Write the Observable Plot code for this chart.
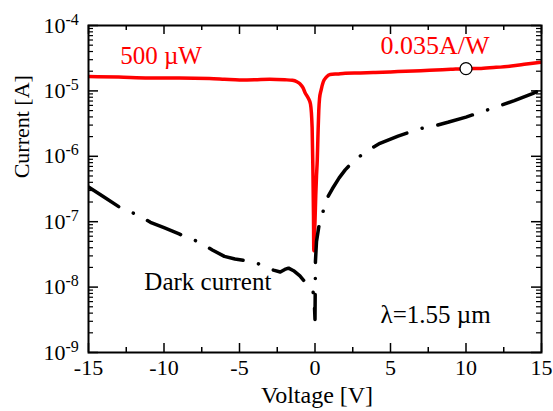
<!DOCTYPE html>
<html><head><meta charset="utf-8">
<script src="https://cdn.jsdelivr.net/npm/d3@7"></script>
<script src="https://cdn.jsdelivr.net/npm/@observablehq/plot@0.6"></script>
<style>body{margin:0;background:#fff;}</style>
</head><body><div id="chart"></div>
<script>
// Photocurrent under 500 µW illumination
const voltageRed = [-15,-13,-11,-9,-7,-6,-5,-4,-3,-2,-1.5,-1.2,-1.0,-0.8,-0.63,-0.45,-0.3,-0.19,-0.14,-0.1,-0.08,-0.04,0,0.05,0.1,0.15,0.2,0.25,0.3,0.4,0.55,0.75,1,1.5,2,3,4,5,6,7,8,9,10,11,12,13,14,15];
const currentRed = [1.66e-5,1.63e-5,1.58e-5,1.58e-5,1.55e-5,1.51e-5,1.47e-5,1.48e-5,1.51e-5,1.48e-5,1.45e-5,1.38e-5,1.29e-5,1.12e-5,9.1e-6,7.8e-6,6.3e-6,2.75e-6,6.3e-7,1.26e-7,3.6e-8,6.3e-8,1.0e-7,2.5e-7,5.0e-7,8.7e-7,2.24e-6,5.0e-6,7.6e-6,1.02e-5,1.38e-5,1.62e-5,1.78e-5,1.82e-5,1.86e-5,1.88e-5,1.91e-5,1.95e-5,2.0e-5,2.04e-5,2.09e-5,2.14e-5,2.19e-5,2.21e-5,2.29e-5,2.40e-5,2.57e-5,2.75e-5];
// Dark current
const voltageDark = [-15,-14,-13,-12.8,-11.8,-10.9,-10,-9,-8.6,-7.7,-6.8,-6,-5.3,-4.7,-4.2,-3.7,-2.75,-2.3,-2.0,-1.75,-1.42,-1.0,-0.74,-0.4,-0.15,-0.05,0,0.03,0.1,0.25,0.45,0.6,0.8,1.14,1.6,2.0,2.6,3.5,4.3,5.5,6.9,7.8,8.8,10,11.3,12.3,13.2,14.4,14.8,15];
const currentDark = [3.39e-7,2.40e-7,1.70e-7,1.58e-7,1.29e-7,9.8e-8,8.1e-8,6.5e-8,5.9e-8,4.9e-8,3.7e-8,2.95e-8,2.69e-8,2.57e-8,2.51e-8,2.24e-8,1.82e-8,1.70e-8,1.86e-8,1.95e-8,1.78e-8,1.48e-8,1.26e-8,1.10e-8,9.3e-9,6.3e-9,3.2e-9,2.5e-8,5.0e-8,8.3e-8,1.17e-7,1.66e-7,2.29e-7,3.16e-7,4.68e-7,6.2e-7,8.7e-7,1.23e-6,1.58e-6,2.04e-6,2.63e-6,2.88e-6,3.31e-6,3.98e-6,5.0e-6,6.0e-6,7.1e-6,9.1e-6,1.0e-5,1.0e-5];
// Responsivity marker
const markerVoltage = [10];
const markerCurrent = [2.19e-5];
// Ticks
const xTicksMajor = [-15,-10,-5,0,5,10,15];
const xTicksMinor = [-12.5,-7.5,-2.5,2.5,7.5,12.5];
const yExponents = [-9,-8,-7,-6,-5,-4];
const yMinorMultipliers = [2,3,4,5,6,7,8,9];

const yTicksMajor = yExponents.map(e => Math.pow(10, e));
const yTicksMinor = yExponents.slice(0, -1).flatMap(e => yMinorMultipliers.map(m => m * Math.pow(10, e)));

const W = 553, H = 411, mL = 88, mR = 12, mT = 25, mB = 59;
const pw = W - mL - mR, ph = H - mT - mB;
const font = "'Liberation Serif', 'Times New Roman', serif";

const chart = Plot.plot({
  width: W, height: H,
  marginLeft: mL, marginRight: mR, marginTop: mT, marginBottom: mB,
  style: {fontFamily: font, background: "white", color: "black"},
  x: {domain: [-15, 15]},
  y: {type: "log", domain: [1e-9, 1e-4]},
  marks: [
    Plot.line(currentRed, {x: voltageRed, y: d => d, stroke: "#ff0000", strokeWidth: 3.5, curve: "monotone-x", clip: true}),
    Plot.line(currentDark, {x: voltageDark, y: d => d, stroke: "black", strokeWidth: 3.5, strokeDasharray: "36,16,0.1,16", strokeLinecap: "round", clip: true}),
    Plot.dot(markerCurrent, {x: markerVoltage, y: d => d, r: 6, fill: "white", stroke: "black", strokeWidth: 1.3}),
    // inward ticks
    Plot.tickY(yTicksMajor, {y: d => d, insetRight: pw - 10, stroke: "black", strokeWidth: 1.5}),
    Plot.tickY(yTicksMajor, {y: d => d, insetLeft: pw - 10, stroke: "black", strokeWidth: 1.5}),
    Plot.tickY(yTicksMinor, {y: d => d, insetRight: pw - 5, stroke: "black", strokeWidth: 1.2}),
    Plot.tickY(yTicksMinor, {y: d => d, insetLeft: pw - 5, stroke: "black", strokeWidth: 1.2}),
    Plot.tickX(xTicksMajor, {x: d => d, insetTop: ph - 9, stroke: "black", strokeWidth: 1.5}),
    Plot.tickX(xTicksMajor, {x: d => d, insetBottom: ph - 9, stroke: "black", strokeWidth: 1.5}),
    Plot.tickX(xTicksMinor, {x: d => d, insetTop: ph - 5, stroke: "black", strokeWidth: 1.5}),
    Plot.tickX(xTicksMinor, {x: d => d, insetBottom: ph - 5, stroke: "black", strokeWidth: 1.5}),
    Plot.frame({stroke: "black", strokeWidth: 2}),
    // axes
    Plot.axisX(xTicksMajor, {tickSize: 0, tickPadding: 7, fontSize: 22, label: null, tickFormat: d => String(d)}),
    Plot.axisY(yTicksMajor, {tickSize: 0, tickPadding: 23, fontSize: 22, label: null, tickFormat: () => "10"}),
    Plot.text(yTicksMajor, {frameAnchor: "left", y: d => d, text: (d, i) => String(yExponents[i]), dx: -23, dy: -6, textAnchor: "start", fontSize: 16}),
    Plot.text(["Voltage [V]"], {frameAnchor: "bottom", dx: 2, dy: 50, fontSize: 24}),
    Plot.text(["Current [A]"], {frameAnchor: "left", y: () => 4.6e-7, rotate: -90, dx: -67, fontSize: 22}),
    // annotations
    Plot.text(["500 µW"], {x: () => -12.9, y: () => 3.46e-5, textAnchor: "start", fill: "#ff0000", fontSize: 25}),
    Plot.text(["0.035A/W"], {x: () => 4.34, y: () => 4.93e-5, textAnchor: "start", fill: "#ff0000", fontSize: 26}),
    Plot.text(["Dark current"], {x: () => -11.3, y: () => 1.18e-8, textAnchor: "start", fill: "black", fontSize: 25}),
    Plot.text(["λ=1.55 µm"], {x: () => 4.34, y: () => 3.72e-9, textAnchor: "start", fill: "black", fontSize: 25})
  ]
});
document.getElementById("chart").appendChild(chart);
</script>
</body></html>
